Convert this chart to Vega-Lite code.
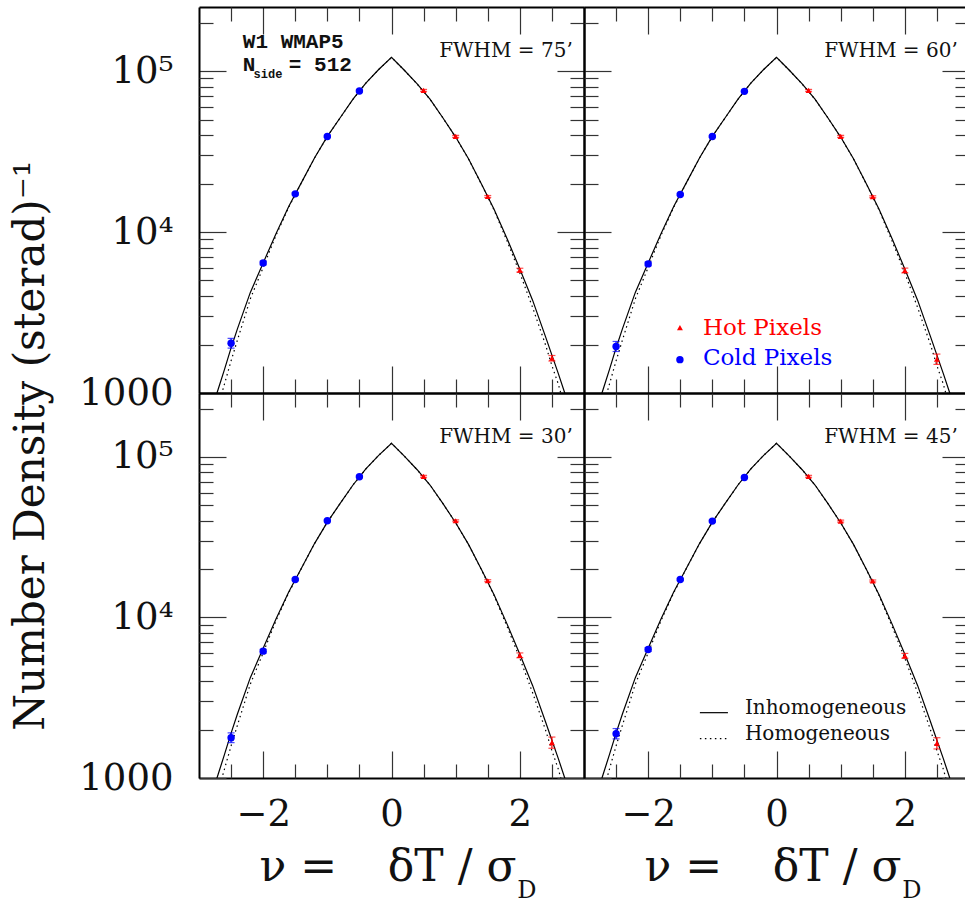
{
  "$schema": "https://vega.github.io/schema/vega-lite/v6.json",
  "background": "white",
  "padding": {"left": 9, "top": 6, "right": 0, "bottom": 0},
  "columns": 2,
  "spacing": 0,
  "bounds": "flush",
  "config": {
    "view": {"stroke": null},
    "axis": {"domainColor": "#000", "domainWidth": 2, "tickColor": "#333", "tickWidth": 1.2, "grid": false, "labelFont": "DejaVu Serif", "labelFontSize": 37, "labelColor": "#111", "titleFont": "DejaVu Serif", "titleFontWeight": "normal", "titleColor": "#111", "labelOverlap": false, "labelFlush": false},
    "text": {"font": "DejaVu Serif", "color": "#111"}
  },
  "datasets": {
    "one": [{}],
    "inh": [
      {"nu": -2.9, "dens": 596}, {"nu": -2.8, "dens": 794}, {"nu": -2.7, "dens": 1059}, {"nu": -2.6, "dens": 1413}, {"nu": -2.5, "dens": 1905}, {"nu": -2.4, "dens": 2512}, {"nu": -2.2, "dens": 4217}, {"nu": -2.0, "dens": 6427}, {"nu": -1.8, "dens": 9772}, {"nu": -1.6, "dens": 14454}, {"nu": -1.4, "dens": 20417}, {"nu": -1.2, "dens": 28840}, {"nu": -1.0, "dens": 39264}, {"nu": -0.8, "dens": 51286}, {"nu": -0.6, "dens": 66834}, {"nu": -0.4, "dens": 84140}, {"nu": -0.2, "dens": 102300}, {"nu": 0, "dens": 121600}, {"nu": 0.2, "dens": 101200}, {"nu": 0.4, "dens": 83180}, {"nu": 0.6, "dens": 66830}, {"nu": 0.8, "dens": 51290}, {"nu": 1.0, "dens": 38900}, {"nu": 1.2, "dens": 28510}, {"nu": 1.4, "dens": 19950}, {"nu": 1.6, "dens": 13800}, {"nu": 1.8, "dens": 9120}, {"nu": 2.0, "dens": 5890}, {"nu": 2.2, "dens": 3760}, {"nu": 2.4, "dens": 2240}, {"nu": 2.5, "dens": 1720}, {"nu": 2.6, "dens": 1320}, {"nu": 2.7, "dens": 1000}, {"nu": 2.8, "dens": 741}, {"nu": 2.9, "dens": 550}
    ],
    "hom": [
      {"nu": -2.8, "dens": 603}, {"nu": -2.7, "dens": 832}, {"nu": -2.6, "dens": 1148}, {"nu": -2.5, "dens": 1585}, {"nu": -2.4, "dens": 2138}, {"nu": -2.2, "dens": 3846}, {"nu": -2.0, "dens": 6026}, {"nu": -1.8, "dens": 9550}, {"nu": -1.6, "dens": 14289}, {"nu": -1.4, "dens": 20350}, {"nu": -1.2, "dens": 28800}, {"nu": -1.0, "dens": 39200}, {"nu": -0.8, "dens": 51250}, {"nu": -0.6, "dens": 66800}, {"nu": -0.4, "dens": 84100}, {"nu": -0.2, "dens": 102200}, {"nu": 0, "dens": 121500}, {"nu": 0.2, "dens": 101100}, {"nu": 0.4, "dens": 83100}, {"nu": 0.6, "dens": 66800}, {"nu": 0.8, "dens": 51250}, {"nu": 1.0, "dens": 38850}, {"nu": 1.2, "dens": 28450}, {"nu": 1.4, "dens": 19880}, {"nu": 1.6, "dens": 13650}, {"nu": 1.8, "dens": 8810}, {"nu": 2.0, "dens": 5560}, {"nu": 2.2, "dens": 3390}, {"nu": 2.4, "dens": 1995}, {"nu": 2.5, "dens": 1479}, {"nu": 2.6, "dens": 1135}, {"nu": 2.7, "dens": 813}, {"nu": 2.8, "dens": 575}
    ],
    "pts": [
      {"panel": "75", "kind": "cold", "nu": -2.5, "dens": 2037, "lo": 1901, "hi": 2183},
      {"panel": "75", "kind": "cold", "nu": -2, "dens": 6427, "lo": 6253, "hi": 6607},
      {"panel": "75", "kind": "cold", "nu": -1.5, "dens": 17260, "lo": 17020, "hi": 17500},
      {"panel": "75", "kind": "cold", "nu": -1, "dens": 39260, "lo": 38720, "hi": 39810},
      {"panel": "75", "kind": "cold", "nu": -0.5, "dens": 75160, "lo": 74130, "hi": 76210},
      {"panel": "75", "kind": "hot", "nu": 0.5, "dens": 75860, "lo": 74810, "hi": 76910},
      {"panel": "75", "kind": "hot", "nu": 1, "dens": 39260, "lo": 38720, "hi": 39810},
      {"panel": "75", "kind": "hot", "nu": 1.5, "dens": 16630, "lo": 16400, "hi": 16860},
      {"panel": "75", "kind": "hot", "nu": 2, "dens": 5794, "lo": 5638, "hi": 5957},
      {"panel": "75", "kind": "hot", "nu": 2.5, "dens": 1644, "lo": 1580, "hi": 1710},
      {"panel": "60", "kind": "cold", "nu": -2.5, "dens": 1945, "lo": 1810, "hi": 2090},
      {"panel": "60", "kind": "cold", "nu": -2, "dens": 6339, "lo": 6168, "hi": 6515},
      {"panel": "60", "kind": "cold", "nu": -1.5, "dens": 17100, "lo": 16860, "hi": 17340},
      {"panel": "60", "kind": "cold", "nu": -1, "dens": 39260, "lo": 38720, "hi": 39810},
      {"panel": "60", "kind": "cold", "nu": -0.5, "dens": 74820, "lo": 73790, "hi": 75870},
      {"panel": "60", "kind": "hot", "nu": 0.5, "dens": 75860, "lo": 74810, "hi": 76910},
      {"panel": "60", "kind": "hot", "nu": 1, "dens": 39260, "lo": 38720, "hi": 39810},
      {"panel": "60", "kind": "hot", "nu": 1.5, "dens": 16560, "lo": 16330, "hi": 16790},
      {"panel": "60", "kind": "hot", "nu": 2, "dens": 5768, "lo": 5572, "hi": 5970},
      {"panel": "60", "kind": "hot", "nu": 2.5, "dens": 1622, "lo": 1505, "hi": 1745},
      {"panel": "30", "kind": "cold", "nu": -2.5, "dens": 1782, "lo": 1663, "hi": 1910},
      {"panel": "30", "kind": "cold", "nu": -2, "dens": 6166, "lo": 6000, "hi": 6338},
      {"panel": "30", "kind": "cold", "nu": -1.5, "dens": 17220, "lo": 16980, "hi": 17460},
      {"panel": "30", "kind": "cold", "nu": -1, "dens": 39990, "lo": 39440, "hi": 40550},
      {"panel": "30", "kind": "cold", "nu": -0.5, "dens": 75160, "lo": 74130, "hi": 76210},
      {"panel": "30", "kind": "hot", "nu": 0.5, "dens": 75680, "lo": 74640, "hi": 76740},
      {"panel": "30", "kind": "hot", "nu": 1, "dens": 39990, "lo": 39440, "hi": 40550},
      {"panel": "30", "kind": "hot", "nu": 1.5, "dens": 16940, "lo": 16700, "hi": 17180},
      {"panel": "30", "kind": "hot", "nu": 2, "dens": 5808, "lo": 5610, "hi": 6012},
      {"panel": "30", "kind": "hot", "nu": 2.5, "dens": 1660, "lo": 1532, "hi": 1799},
      {"panel": "45", "kind": "cold", "nu": -2.5, "dens": 1888, "lo": 1752, "hi": 2032},
      {"panel": "45", "kind": "cold", "nu": -2, "dens": 6310, "lo": 6140, "hi": 6486},
      {"panel": "45", "kind": "cold", "nu": -1.5, "dens": 17220, "lo": 16980, "hi": 17460},
      {"panel": "45", "kind": "cold", "nu": -1, "dens": 39810, "lo": 39260, "hi": 40370},
      {"panel": "45", "kind": "cold", "nu": -0.5, "dens": 74470, "lo": 73440, "hi": 75510},
      {"panel": "45", "kind": "hot", "nu": 0.5, "dens": 75680, "lo": 74640, "hi": 76740},
      {"panel": "45", "kind": "hot", "nu": 1, "dens": 39810, "lo": 39260, "hi": 40370},
      {"panel": "45", "kind": "hot", "nu": 1.5, "dens": 16870, "lo": 16640, "hi": 17110},
      {"panel": "45", "kind": "hot", "nu": 2, "dens": 5768, "lo": 5572, "hi": 5970},
      {"panel": "45", "kind": "hot", "nu": 2.5, "dens": 1644, "lo": 1517, "hi": 1782}
    ]
  },
  "concat": [
    {
      "width": 385, "height": 386,
      "resolve": {"axis": {"x": "independent", "y": "independent"}},
      "layer": [
        {"data": {"name": "inh"}, "mark": {"type": "line", "color": "#000", "strokeWidth": 1.2, "clip": true},
         "encoding": {
           "x": {"field": "nu", "type": "quantitative", "scale": {"domain": [-3, 3], "nice": false, "zero": false}, "axis": {"orient": "bottom", "values": [-2, 0, 2], "tickSize": -27, "labels": false, "title": null}},
           "y": {"field": "dens", "type": "quantitative", "scale": {"type": "log", "domain": [1000, 250000], "nice": false}, "axis": {"orient": "left", "values": [1000, 10000, 100000], "tickSize": -27, "labelPadding": 53, "labelExpr": "datum.value == 1000 ? '1000' : datum.value == 10000 ? '10⁴' : '10⁵'", "title": "Number Density (sterad)⁻¹", "titleFontSize": 42, "titleAngle": 270, "titleAlign": "center", "titleBaseline": "alphabetic", "titleX": -156, "titleY": 438}}}},
        {"data": {"name": "hom"}, "mark": {"type": "line", "color": "#000", "strokeWidth": 1.2, "strokeDash": [1.5, 3.5], "clip": true},
         "encoding": {
           "x": {"field": "nu", "type": "quantitative", "axis": {"orient": "bottom", "values": [-2.5, -1.5, -1, -0.5, 0.5, 1, 1.5, 2.5], "tickSize": -14, "labels": false, "title": null, "domain": false}},
           "y": {"field": "dens", "type": "quantitative", "axis": {"orient": "left", "values": [2000, 3000, 4000, 5000, 6000, 7000, 8000, 9000, 20000, 30000, 40000, 50000, 60000, 70000, 80000, 90000, 200000], "tickSize": -14, "labels": false, "title": null, "domain": false}}}},
        {"data": {"name": "pts"}, "transform": [{"filter": "datum.panel == '75'"}], "mark": {"type": "rule", "strokeWidth": 1.2},
         "encoding": {
           "x": {"field": "nu", "type": "quantitative", "axis": {"orient": "top", "values": [-2, 0, 2], "tickSize": -27, "labels": false, "title": null}},
           "y": {"field": "lo", "type": "quantitative", "axis": {"orient": "right", "values": [1000, 10000, 100000], "tickSize": -27, "labels": false, "title": null}},
           "y2": {"field": "hi"},
           "color": {"field": "kind", "type": "nominal", "scale": {"domain": ["cold", "hot"], "range": ["#0000ff", "#ff0000"]}, "legend": null}}},
        {"data": {"name": "pts"}, "transform": [{"filter": "datum.panel == '75'"}], "mark": {"type": "tick", "orient": "horizontal", "size": 7, "thickness": 1.2},
         "encoding": {
           "x": {"field": "nu", "type": "quantitative", "axis": {"orient": "top", "values": [-2.5, -1.5, -1, -0.5, 0.5, 1, 1.5, 2.5], "tickSize": -14, "labels": false, "title": null, "domain": false}},
           "y": {"field": "lo", "type": "quantitative", "axis": {"orient": "right", "values": [2000, 3000, 4000, 5000, 6000, 7000, 8000, 9000, 20000, 30000, 40000, 50000, 60000, 70000, 80000, 90000, 200000], "tickSize": -14, "labels": false, "title": null, "domain": false}},
           "color": {"field": "kind", "type": "nominal", "legend": null}}},
        {"data": {"name": "pts"}, "transform": [{"filter": "datum.panel == '75'"}], "mark": {"type": "tick", "orient": "horizontal", "size": 7, "thickness": 1.2},
         "encoding": {
           "x": {"field": "nu", "type": "quantitative", "axis": null},
           "y": {"field": "hi", "type": "quantitative", "axis": null},
           "color": {"field": "kind", "type": "nominal", "legend": null}}},
        {"data": {"name": "pts"}, "transform": [{"filter": "datum.panel == '75'"}], "mark": {"type": "point", "filled": true, "opacity": 1},
         "encoding": {
           "x": {"field": "nu", "type": "quantitative", "axis": null},
           "y": {"field": "dens", "type": "quantitative", "axis": null},
           "shape": {"field": "kind", "type": "nominal", "scale": {"domain": ["cold", "hot"], "range": ["circle", "triangle-up"]}, "legend": null},
           "size": {"field": "kind", "type": "nominal", "scale": {"domain": ["cold", "hot"], "range": [55, 35]}, "legend": null},
           "color": {"field": "kind", "type": "nominal", "legend": null}}},
        {"data": {"name": "one"}, "mark": {"type": "text", "text": "W1 WMAP5", "font": "Liberation Mono", "fontWeight": "bold", "fontSize": 21, "align": "left", "baseline": "alphabetic"},
         "encoding": {"x": {"datum": -2.317, "type": "quantitative", "axis": null}, "y": {"datum": 140000, "type": "quantitative", "axis": null}}},
        {"data": {"name": "one"}, "mark": {"type": "text", "text": "N", "font": "Liberation Mono", "fontWeight": "bold", "fontSize": 21, "align": "left", "baseline": "alphabetic"},
         "encoding": {"x": {"datum": -2.317, "type": "quantitative", "axis": null}, "y": {"datum": 99500, "type": "quantitative", "axis": null}}},
        {"data": {"name": "one"}, "mark": {"type": "text", "text": "side", "font": "Liberation Mono", "fontWeight": "bold", "fontSize": 12, "align": "left", "baseline": "alphabetic"},
         "encoding": {"x": {"datum": -2.15, "type": "quantitative", "axis": null}, "y": {"datum": 91000, "type": "quantitative", "axis": null}}},
        {"data": {"name": "one"}, "mark": {"type": "text", "text": "= 512", "font": "Liberation Mono", "fontWeight": "bold", "fontSize": 21, "align": "left", "baseline": "alphabetic"},
         "encoding": {"x": {"datum": -1.6, "type": "quantitative", "axis": null}, "y": {"datum": 99500, "type": "quantitative", "axis": null}}},
        {"data": {"name": "one"}, "mark": {"type": "text", "text": "FWHM = 75’", "fontSize": 20, "align": "right", "baseline": "alphabetic"},
         "encoding": {"x": {"datum": 2.825, "type": "quantitative", "axis": null}, "y": {"datum": 122700, "type": "quantitative", "axis": null}}}
      ]
    },
    {
      "width": 385, "height": 386,
      "resolve": {"axis": {"x": "independent", "y": "independent"}},
      "layer": [
        {"data": {"name": "inh"}, "mark": {"type": "line", "color": "#000", "strokeWidth": 1.2, "clip": true},
         "encoding": {
           "x": {"field": "nu", "type": "quantitative", "scale": {"domain": [-3, 3], "nice": false, "zero": false}, "axis": {"orient": "bottom", "values": [-2, 0, 2], "tickSize": -27, "labels": false, "title": null}},
           "y": {"field": "dens", "type": "quantitative", "scale": {"type": "log", "domain": [1000, 250000], "nice": false}, "axis": {"orient": "left", "values": [1000, 10000, 100000], "tickSize": -27, "labels": false, "title": null}}}},
        {"data": {"name": "hom"}, "mark": {"type": "line", "color": "#000", "strokeWidth": 1.2, "strokeDash": [1.5, 3.5], "clip": true},
         "encoding": {
           "x": {"field": "nu", "type": "quantitative", "axis": {"orient": "bottom", "values": [-2.5, -1.5, -1, -0.5, 0.5, 1, 1.5, 2.5], "tickSize": -14, "labels": false, "title": null, "domain": false}},
           "y": {"field": "dens", "type": "quantitative", "axis": {"orient": "left", "values": [2000, 3000, 4000, 5000, 6000, 7000, 8000, 9000, 20000, 30000, 40000, 50000, 60000, 70000, 80000, 90000, 200000], "tickSize": -14, "labels": false, "title": null, "domain": false}}}},
        {"data": {"name": "pts"}, "transform": [{"filter": "datum.panel == '60'"}], "mark": {"type": "rule", "strokeWidth": 1.2},
         "encoding": {
           "x": {"field": "nu", "type": "quantitative", "axis": {"orient": "top", "values": [-2, 0, 2], "tickSize": -27, "labels": false, "title": null}},
           "y": {"field": "lo", "type": "quantitative", "axis": {"orient": "right", "values": [1000, 10000, 100000], "tickSize": -27, "labels": false, "title": null}},
           "y2": {"field": "hi"},
           "color": {"field": "kind", "type": "nominal", "scale": {"domain": ["cold", "hot"], "range": ["#0000ff", "#ff0000"]}, "legend": null}}},
        {"data": {"name": "pts"}, "transform": [{"filter": "datum.panel == '60'"}], "mark": {"type": "tick", "orient": "horizontal", "size": 7, "thickness": 1.2},
         "encoding": {
           "x": {"field": "nu", "type": "quantitative", "axis": {"orient": "top", "values": [-2.5, -1.5, -1, -0.5, 0.5, 1, 1.5, 2.5], "tickSize": -14, "labels": false, "title": null, "domain": false}},
           "y": {"field": "lo", "type": "quantitative", "axis": {"orient": "right", "values": [2000, 3000, 4000, 5000, 6000, 7000, 8000, 9000, 20000, 30000, 40000, 50000, 60000, 70000, 80000, 90000, 200000], "tickSize": -14, "labels": false, "title": null, "domain": false}},
           "color": {"field": "kind", "type": "nominal", "legend": null}}},
        {"data": {"name": "pts"}, "transform": [{"filter": "datum.panel == '60'"}], "mark": {"type": "tick", "orient": "horizontal", "size": 7, "thickness": 1.2},
         "encoding": {
           "x": {"field": "nu", "type": "quantitative", "axis": null},
           "y": {"field": "hi", "type": "quantitative", "axis": null},
           "color": {"field": "kind", "type": "nominal", "legend": null}}},
        {"data": {"name": "pts"}, "transform": [{"filter": "datum.panel == '60'"}], "mark": {"type": "point", "filled": true, "opacity": 1},
         "encoding": {
           "x": {"field": "nu", "type": "quantitative", "axis": null},
           "y": {"field": "dens", "type": "quantitative", "axis": null},
           "shape": {"field": "kind", "type": "nominal", "scale": {"domain": ["cold", "hot"], "range": ["circle", "triangle-up"]}, "legend": null},
           "size": {"field": "kind", "type": "nominal", "scale": {"domain": ["cold", "hot"], "range": [55, 35]}, "legend": null},
           "color": {"field": "kind", "type": "nominal", "legend": null}}},
        {"data": {"name": "one"}, "mark": {"type": "text", "text": "FWHM = 60’", "fontSize": 20, "align": "right", "baseline": "alphabetic"},
         "encoding": {"x": {"datum": 2.825, "type": "quantitative", "axis": null}, "y": {"datum": 122700, "type": "quantitative", "axis": null}}},
        {"data": {"name": "one"}, "mark": {"type": "point", "shape": "triangle-up", "filled": true, "size": 35, "color": "#ff0000", "opacity": 1},
         "encoding": {"x": {"datum": -1.505, "type": "quantitative", "axis": null}, "y": {"datum": 2547, "type": "quantitative", "axis": null}}},
        {"data": {"name": "one"}, "mark": {"type": "point", "shape": "circle", "filled": true, "size": 55, "color": "#0000ff", "opacity": 1},
         "encoding": {"x": {"datum": -1.505, "type": "quantitative", "axis": null}, "y": {"datum": 1611, "type": "quantitative", "axis": null}}},
        {"data": {"name": "one"}, "mark": {"type": "text", "text": "Hot Pixels", "fontSize": 23, "color": "#ff0000", "align": "left", "baseline": "alphabetic"},
         "encoding": {"x": {"datum": -1.147, "type": "quantitative", "axis": null}, "y": {"datum": 2301, "type": "quantitative", "axis": null}}},
        {"data": {"name": "one"}, "mark": {"type": "text", "text": "Cold Pixels", "fontSize": 23, "color": "#0000ff", "align": "left", "baseline": "alphabetic"},
         "encoding": {"x": {"datum": -1.147, "type": "quantitative", "axis": null}, "y": {"datum": 1500, "type": "quantitative", "axis": null}}}
      ]
    },
    {
      "width": 385, "height": 385,
      "resolve": {"axis": {"x": "independent", "y": "independent"}},
      "layer": [
        {"data": {"name": "inh"}, "mark": {"type": "line", "color": "#000", "strokeWidth": 1.2, "clip": true},
         "encoding": {
           "x": {"field": "nu", "type": "quantitative", "scale": {"domain": [-3, 3], "nice": false, "zero": false}, "axis": {"orient": "bottom", "values": [-2, 0, 2], "tickSize": -27, "labelPadding": 45, "title": "ν =\u00a0\u00a0\u00a0\u2009δT / σ", "titleFontSize": 44, "titleAlign": "left", "titleBaseline": "alphabetic", "titleX": 60, "titleY": 102}},
           "y": {"field": "dens", "type": "quantitative", "scale": {"type": "log", "domain": [1000, 250000], "nice": false}, "axis": {"orient": "left", "values": [1000, 10000, 100000], "tickSize": -27, "labelPadding": 53, "labelExpr": "datum.value == 1000 ? '1000' : datum.value == 10000 ? '10⁴' : '10⁵'", "title": null}}}},
        {"data": {"name": "hom"}, "mark": {"type": "line", "color": "#000", "strokeWidth": 1.2, "strokeDash": [1.5, 3.5], "clip": true},
         "encoding": {
           "x": {"field": "nu", "type": "quantitative", "axis": {"orient": "bottom", "values": [-2.5, -1.5, -1, -0.5, 0.5, 1, 1.5, 2.5], "tickSize": -14, "labels": false, "title": null, "domain": false}},
           "y": {"field": "dens", "type": "quantitative", "axis": {"orient": "left", "values": [2000, 3000, 4000, 5000, 6000, 7000, 8000, 9000, 20000, 30000, 40000, 50000, 60000, 70000, 80000, 90000, 200000], "tickSize": -14, "labels": false, "title": null, "domain": false}}}},
        {"data": {"name": "pts"}, "transform": [{"filter": "datum.panel == '30'"}], "mark": {"type": "rule", "strokeWidth": 1.2},
         "encoding": {
           "x": {"field": "nu", "type": "quantitative", "axis": {"orient": "top", "values": [-2, 0, 2], "tickSize": -27, "labels": false, "title": null}},
           "y": {"field": "lo", "type": "quantitative", "axis": {"orient": "right", "values": [1000, 10000, 100000], "tickSize": -27, "labels": false, "title": null}},
           "y2": {"field": "hi"},
           "color": {"field": "kind", "type": "nominal", "scale": {"domain": ["cold", "hot"], "range": ["#0000ff", "#ff0000"]}, "legend": null}}},
        {"data": {"name": "pts"}, "transform": [{"filter": "datum.panel == '30'"}], "mark": {"type": "tick", "orient": "horizontal", "size": 7, "thickness": 1.2},
         "encoding": {
           "x": {"field": "nu", "type": "quantitative", "axis": {"orient": "top", "values": [-2.5, -1.5, -1, -0.5, 0.5, 1, 1.5, 2.5], "tickSize": -14, "labels": false, "title": null, "domain": false}},
           "y": {"field": "lo", "type": "quantitative", "axis": {"orient": "right", "values": [2000, 3000, 4000, 5000, 6000, 7000, 8000, 9000, 20000, 30000, 40000, 50000, 60000, 70000, 80000, 90000, 200000], "tickSize": -14, "labels": false, "title": null, "domain": false}},
           "color": {"field": "kind", "type": "nominal", "legend": null}}},
        {"data": {"name": "pts"}, "transform": [{"filter": "datum.panel == '30'"}], "mark": {"type": "tick", "orient": "horizontal", "size": 7, "thickness": 1.2},
         "encoding": {
           "x": {"field": "nu", "type": "quantitative", "axis": null},
           "y": {"field": "hi", "type": "quantitative", "axis": null},
           "color": {"field": "kind", "type": "nominal", "legend": null}}},
        {"data": {"name": "pts"}, "transform": [{"filter": "datum.panel == '30'"}], "mark": {"type": "point", "filled": true, "opacity": 1},
         "encoding": {
           "x": {"field": "nu", "type": "quantitative", "axis": null},
           "y": {"field": "dens", "type": "quantitative", "axis": null},
           "shape": {"field": "kind", "type": "nominal", "scale": {"domain": ["cold", "hot"], "range": ["circle", "triangle-up"]}, "legend": null},
           "size": {"field": "kind", "type": "nominal", "scale": {"domain": ["cold", "hot"], "range": [55, 35]}, "legend": null},
           "color": {"field": "kind", "type": "nominal", "legend": null}}},
        {"data": {"name": "one"}, "mark": {"type": "text", "text": "FWHM = 30’", "fontSize": 20, "align": "right", "baseline": "alphabetic"},
         "encoding": {"x": {"datum": 2.825, "type": "quantitative", "axis": null}, "y": {"datum": 122700, "type": "quantitative", "axis": null}}},
        {"data": {"name": "one"}, "mark": {"type": "text", "text": "D", "fontSize": 24, "align": "left", "baseline": "alphabetic"},
         "encoding": {"x": {"datum": 1.96, "type": "quantitative", "axis": null}, "y": {"datum": 178, "type": "quantitative", "axis": null}}}
      ]
    },
    {
      "width": 385, "height": 385,
      "resolve": {"axis": {"x": "independent", "y": "independent"}},
      "layer": [
        {"data": {"name": "inh"}, "mark": {"type": "line", "color": "#000", "strokeWidth": 1.2, "clip": true},
         "encoding": {
           "x": {"field": "nu", "type": "quantitative", "scale": {"domain": [-3, 3], "nice": false, "zero": false}, "axis": {"orient": "bottom", "values": [-2, 0, 2], "tickSize": -27, "labelPadding": 45, "title": "ν =\u00a0\u00a0\u00a0\u2009δT / σ", "titleFontSize": 44, "titleAlign": "left", "titleBaseline": "alphabetic", "titleX": 60, "titleY": 102}},
           "y": {"field": "dens", "type": "quantitative", "scale": {"type": "log", "domain": [1000, 250000], "nice": false}, "axis": {"orient": "left", "values": [1000, 10000, 100000], "tickSize": -27, "labels": false, "title": null}}}},
        {"data": {"name": "hom"}, "mark": {"type": "line", "color": "#000", "strokeWidth": 1.2, "strokeDash": [1.5, 3.5], "clip": true},
         "encoding": {
           "x": {"field": "nu", "type": "quantitative", "axis": {"orient": "bottom", "values": [-2.5, -1.5, -1, -0.5, 0.5, 1, 1.5, 2.5], "tickSize": -14, "labels": false, "title": null, "domain": false}},
           "y": {"field": "dens", "type": "quantitative", "axis": {"orient": "left", "values": [2000, 3000, 4000, 5000, 6000, 7000, 8000, 9000, 20000, 30000, 40000, 50000, 60000, 70000, 80000, 90000, 200000], "tickSize": -14, "labels": false, "title": null, "domain": false}}}},
        {"data": {"name": "pts"}, "transform": [{"filter": "datum.panel == '45'"}], "mark": {"type": "rule", "strokeWidth": 1.2},
         "encoding": {
           "x": {"field": "nu", "type": "quantitative", "axis": {"orient": "top", "values": [-2, 0, 2], "tickSize": -27, "labels": false, "title": null}},
           "y": {"field": "lo", "type": "quantitative", "axis": {"orient": "right", "values": [1000, 10000, 100000], "tickSize": -27, "labels": false, "title": null}},
           "y2": {"field": "hi"},
           "color": {"field": "kind", "type": "nominal", "scale": {"domain": ["cold", "hot"], "range": ["#0000ff", "#ff0000"]}, "legend": null}}},
        {"data": {"name": "pts"}, "transform": [{"filter": "datum.panel == '45'"}], "mark": {"type": "tick", "orient": "horizontal", "size": 7, "thickness": 1.2},
         "encoding": {
           "x": {"field": "nu", "type": "quantitative", "axis": {"orient": "top", "values": [-2.5, -1.5, -1, -0.5, 0.5, 1, 1.5, 2.5], "tickSize": -14, "labels": false, "title": null, "domain": false}},
           "y": {"field": "lo", "type": "quantitative", "axis": {"orient": "right", "values": [2000, 3000, 4000, 5000, 6000, 7000, 8000, 9000, 20000, 30000, 40000, 50000, 60000, 70000, 80000, 90000, 200000], "tickSize": -14, "labels": false, "title": null, "domain": false}},
           "color": {"field": "kind", "type": "nominal", "legend": null}}},
        {"data": {"name": "pts"}, "transform": [{"filter": "datum.panel == '45'"}], "mark": {"type": "tick", "orient": "horizontal", "size": 7, "thickness": 1.2},
         "encoding": {
           "x": {"field": "nu", "type": "quantitative", "axis": null},
           "y": {"field": "hi", "type": "quantitative", "axis": null},
           "color": {"field": "kind", "type": "nominal", "legend": null}}},
        {"data": {"name": "pts"}, "transform": [{"filter": "datum.panel == '45'"}], "mark": {"type": "point", "filled": true, "opacity": 1},
         "encoding": {
           "x": {"field": "nu", "type": "quantitative", "axis": null},
           "y": {"field": "dens", "type": "quantitative", "axis": null},
           "shape": {"field": "kind", "type": "nominal", "scale": {"domain": ["cold", "hot"], "range": ["circle", "triangle-up"]}, "legend": null},
           "size": {"field": "kind", "type": "nominal", "scale": {"domain": ["cold", "hot"], "range": [55, 35]}, "legend": null},
           "color": {"field": "kind", "type": "nominal", "legend": null}}},
        {"data": {"name": "one"}, "mark": {"type": "text", "text": "FWHM = 45’", "fontSize": 20, "align": "right", "baseline": "alphabetic"},
         "encoding": {"x": {"datum": 2.825, "type": "quantitative", "axis": null}, "y": {"datum": 122700, "type": "quantitative", "axis": null}}},
        {"data": {"name": "one"}, "mark": {"type": "text", "text": "D", "fontSize": 24, "align": "left", "baseline": "alphabetic"},
         "encoding": {"x": {"datum": 1.96, "type": "quantitative", "axis": null}, "y": {"datum": 178, "type": "quantitative", "axis": null}}},
        {"data": {"name": "one"}, "mark": {"type": "rule", "color": "#000", "strokeWidth": 1.2},
         "encoding": {"x": {"datum": -1.194, "type": "quantitative", "axis": null}, "x2": {"datum": -0.757}, "y": {"datum": 2552, "type": "quantitative", "axis": null}}},
        {"data": {"name": "one"}, "mark": {"type": "rule", "color": "#000", "strokeWidth": 1.2, "strokeDash": [1.5, 3.5]},
         "encoding": {"x": {"datum": -1.194, "type": "quantitative", "axis": null}, "x2": {"datum": -0.757}, "y": {"datum": 1758, "type": "quantitative", "axis": null}}},
        {"data": {"name": "one"}, "mark": {"type": "text", "text": "Inhomogeneous", "fontSize": 20, "align": "left", "baseline": "alphabetic"},
         "encoding": {"x": {"datum": -0.492, "type": "quantitative", "axis": null}, "y": {"datum": 2518, "type": "quantitative", "axis": null}}},
        {"data": {"name": "one"}, "mark": {"type": "text", "text": "Homogeneous", "fontSize": 20, "align": "left", "baseline": "alphabetic"},
         "encoding": {"x": {"datum": -0.492, "type": "quantitative", "axis": null}, "y": {"datum": 1734, "type": "quantitative", "axis": null}}}
      ]
    }
  ]
}
